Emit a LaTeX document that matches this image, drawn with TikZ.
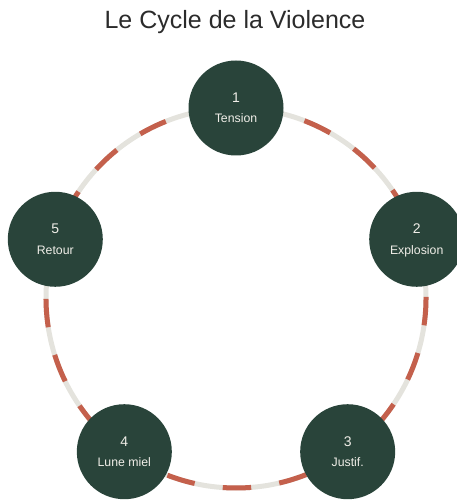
\documentclass[tikz,border=0pt]{standalone}
\usepackage{fontspec}
\setmainfont{Liberation Sans}
\usepackage{tikz}
\usetikzlibrary{calc}

\definecolor{phasegreen}{HTML}{29443A}
\definecolor{ringgray}{HTML}{E4E3DD}
\definecolor{ringred}{HTML}{C4604C}
\definecolor{phasetext}{HTML}{F0EEE8}
\definecolor{titlegray}{HTML}{2B2B2B}

\begin{document}
\begin{tikzpicture}[x=1pt,y=1pt,
		phase/.style={circle,fill=phasegreen,minimum size=95pt,inner sep=0pt},
		phasenum/.style={anchor=base,text=phasetext,font=\fontsize{14}{16}\selectfont},
		phaselab/.style={anchor=base,text=phasetext,font=\fontsize{12.3}{14}\selectfont},
		ringbase/.style={draw=ringgray,line width=5pt},
		ringdash/.style={draw=ringred,line width=5pt,dash pattern=on 28.43pt off 28.43pt,dash phase=43.72pt}]
			\useasboundingbox (0,0) rectangle (457,501);

			\node[anchor=base,text=titlegray,font=\fontsize{25}{30}\selectfont] (title) at (235,472) {Le Cycle de la Violence};

			\coordinate (c) at (236,203);

			% positions of the five phases
			\foreach \i/\ang in {1/90,2/18,3/-54,4/-126,5/162}
			\coordinate (q\i) at ($(c)+(\ang:190)$);

			% ring behind the phases
			\draw[ringbase] (c) circle[radius=190pt];
			\draw[ringdash] (q1) arc[start angle=90,end angle=18,radius=190pt]
				arc[start angle=18,end angle=-54,radius=190pt]
				arc[start angle=-54,end angle=-126,radius=190pt]
				arc[start angle=-126,end angle=-198,radius=190pt]
				arc[start angle=-198,end angle=-270,radius=190pt];

			\foreach \i/\txt in {1/Tension,2/Explosion,3/Justif.,4/Lune miel,5/Retour}{
			\node[phase] (p\i) at (q\i) {};
			\node[phasenum] (n\i) at ([yshift=5.5pt]p\i.center) {\i};
			\node[phaselab] (l\i) at ([yshift=-15pt]p\i.center) {\txt};
			}
		\end{tikzpicture}
\end{document}
